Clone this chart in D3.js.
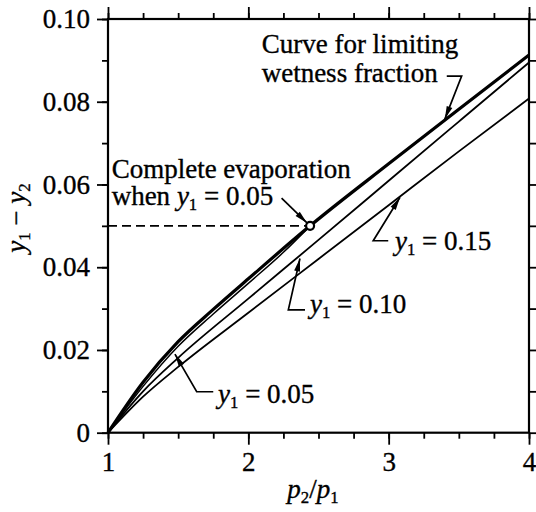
<!DOCTYPE html>
<html>
<head>
<meta charset="utf-8">
<script src="https://cdn.jsdelivr.net/npm/d3@7"></script>
<style>
  html, body { margin: 0; padding: 0; background: #fff; }
  svg { display: block; }
  text { font-family: "Liberation Serif", "Times New Roman", serif; fill: #000; stroke: #000; stroke-width: 0.35px; }
</style>
</head>
<body>
<svg id="chart" width="536" height="512"></svg>
<script>
// Pressure ratio p2/p1 (x) and moisture drop y1 - y2 (y)
const ratioMajorTicks = [1, 2, 3, 4];
const ratioMinorTicks = [1, 1.25, 1.5, 1.75, 2, 2.25, 2.5, 2.75, 3, 3.25, 3.5, 3.75, 4];
const diffMajorTicks = [0, 0.02, 0.04, 0.06, 0.08, 0.10];
const diffMinorTicks = [0, 0.01, 0.02, 0.03, 0.04, 0.05, 0.06, 0.07, 0.08, 0.09, 0.10];
const diffTickLabels = ["0", "0.02", "0.04", "0.06", "0.08", "0.10"];

// Curve for limiting wetness fraction
const limitingCurve = [[1, 0], [1.25, 0.0122], [1.5, 0.0220], [1.75, 0.0298], [2, 0.0372],
  [2.44, 0.0500], [3, 0.0650], [3.5, 0.0782], [4, 0.0913]];
// Inlet wetness y1 = 0.05 (ends at complete evaporation)
const wetness05 = [[1, 0], [1.25, 0.0112], [1.5, 0.0209], [1.75, 0.0287], [2, 0.0361], [2.25, 0.0436], [2.44, 0.0500]];
// Inlet wetness y1 = 0.10
const wetness10 = [[1, 0], [1.25, 0.0100], [1.5, 0.0181], [2, 0.0324], [2.5, 0.0466],
  [3, 0.0609], [3.5, 0.0752], [4, 0.0895]];
// Inlet wetness y1 = 0.15
const wetness15 = [[1, 0], [1.25, 0.0087], [1.5, 0.0159], [2, 0.0290], [2.5, 0.0420],
  [3, 0.0550], [3.5, 0.0680], [4, 0.0808]];
// Complete evaporation point for y1 = 0.05
const evaporationPoint = [2.44, 0.05];

const FONT = 27;
const svg = d3.select("#chart");
const x = d3.scaleLinear().domain([1, 4]).range([108, 529]);
const y = d3.scaleLinear().domain([0, 0.1]).range([432.7, 19]);

function styleAxis(g) {
  g.select(".domain").remove();
  g.attr("font-size", FONT).attr("font-family", null);
  g.selectAll(".tick line").attr("stroke", "#000").attr("stroke-width", 1.8);
  g.selectAll("text").attr("font-size", FONT).attr("fill", "#000");
}

// Bottom axis
svg.append("g").attr("transform", `translate(0,${y(0)})`)
  .call(d3.axisBottom(x).tickValues(ratioMinorTicks).tickSize(6).tickFormat(""))
  .call(styleAxis);
svg.append("g").attr("transform", `translate(0,${y(0)})`)
  .call(d3.axisBottom(x).tickValues(ratioMajorTicks).tickSize(12).tickPadding(7).tickFormat(d3.format("d")))
  .call(styleAxis);
// Top axis
svg.append("g").attr("transform", `translate(0,${y(0.1)})`)
  .call(d3.axisTop(x).tickValues(ratioMinorTicks).tickSize(6).tickFormat(""))
  .call(styleAxis);
svg.append("g").attr("transform", `translate(0,${y(0.1)})`)
  .call(d3.axisTop(x).tickValues(ratioMajorTicks).tickSize(12).tickFormat(""))
  .call(styleAxis);
// Left axis
svg.append("g").attr("transform", `translate(${x(1)},0)`)
  .call(d3.axisLeft(y).tickValues(diffMinorTicks).tickSize(6).tickFormat(""))
  .call(styleAxis);
svg.append("g").attr("transform", `translate(${x(1)},0)`)
  .call(d3.axisLeft(y).tickValues(diffMajorTicks).tickSize(11).tickPadding(7)
    .tickFormat((d, i) => diffTickLabels[i]))
  .call(styleAxis);
// Right axis
svg.append("g").attr("transform", `translate(${x(4)},0)`)
  .call(d3.axisRight(y).tickValues(diffMinorTicks).tickSize(7).tickFormat(""))
  .call(styleAxis);

// Frame
svg.append("rect")
  .attr("x", x(1)).attr("y", y(0.1))
  .attr("width", x(4) - x(1)).attr("height", y(0) - y(0.1))
  .attr("fill", "none").attr("stroke", "#000").attr("stroke-width", 2.2);

// Curves
const line = d3.line().x(d => x(d[0])).y(d => y(d[1])).curve(d3.curveMonotoneX);
const curves = svg.append("g").attr("fill", "none").attr("stroke", "#000").attr("stroke-linejoin", "round");
curves.append("path").attr("d", line(wetness15)).attr("stroke-width", 1.8);
curves.append("path").attr("d", line(wetness10)).attr("stroke-width", 1.8);
curves.append("path").attr("d", line(wetness05)).attr("stroke-width", 1.5);
curves.append("path").attr("d", line(limitingCurve)).attr("stroke-width", 3.2);

// Dashed guide at y1 - y2 = 0.05 up to the evaporation point
svg.append("line")
  .attr("x1", x(1)).attr("x2", x(evaporationPoint[0]) - 4)
  .attr("y1", y(evaporationPoint[1])).attr("y2", y(evaporationPoint[1]))
  .attr("stroke", "#000").attr("stroke-width", 1.6).attr("stroke-dasharray", "9,5");

svg.append("circle")
  .attr("cx", x(evaporationPoint[0])).attr("cy", y(evaporationPoint[1])).attr("r", 4)
  .attr("fill", "#fff").attr("stroke", "#000").attr("stroke-width", 2.2);

// Leader lines with filled arrowheads; the last point is the arrow tip
const leaders = svg.append("g");
function leader(points) {
  const px = points.map(p => [x(p[0]), y(p[1])]);
  leaders.append("polyline")
    .attr("points", px.map(p => p.join(",")).join(" "))
    .attr("fill", "none").attr("stroke", "#000").attr("stroke-width", 1.7);
  const [x0, y0] = px[px.length - 2];
  const [x1, y1] = px[px.length - 1];
  const a = Math.atan2(y1 - y0, x1 - x0);
  const L = 13, W = 3;
  const bx = x1 - L * Math.cos(a), by = y1 - L * Math.sin(a);
  leaders.append("polygon")
    .attr("points", [[x1, y1], [bx + W * Math.sin(a), by - W * Math.cos(a)],
      [bx - W * Math.sin(a), by + W * Math.cos(a)]].map(p => p.join(",")).join(" "))
    .attr("fill", "#000");
}

// Rich text with italic symbols and subscripts
function richText(parent, px, py, parts, opts = {}) {
  const t = parent.append("text").attr("x", px).attr("y", py).attr("font-size", FONT);
  if (opts.anchor) t.attr("text-anchor", opts.anchor);
  if (opts.rotate) t.attr("transform", `rotate(${opts.rotate},${px},${py})`);
  let shifted = false;
  parts.forEach(p => {
    const s = t.append("tspan").text(p.t);
    if (p.i) s.attr("font-style", "italic");
    if (p.sub) {
      s.attr("font-size", FONT * 0.62).attr("dy", shifted ? 0 : 5);
      shifted = true;
    } else if (shifted) {
      s.attr("dy", -5);
      shifted = false;
    }
  });
  return t;
}
const y1Label = v => [{ t: "y", i: true }, { t: "1", sub: true }, { t: " = " + v }];

const notes = svg.append("g");
// Limiting wetness annotation
notes.append("text").attr("x", x(2.095)).attr("y", y(0.0918)).attr("font-size", FONT).text("Curve for limiting");
notes.append("text").attr("x", x(2.095)).attr("y", y(0.0848)).attr("font-size", FONT).text("wetness fraction");
leader([[3.414, 0.0862], [3.520, 0.0862], [3.40, 0.0758]]);

// Complete evaporation annotation
notes.append("text").attr("x", x(1.026)).attr("y", y(0.0616)).attr("font-size", FONT).text("Complete evaporation");
richText(notes, x(1.026), y(0.0550), [{ t: "when " }].concat(y1Label("0.05")));
leader([[2.237, 0.0567], [2.418, 0.0507]]);

// Wetness labels
richText(notes, x(3.045), y(0.0442), y1Label("0.15"));
leader([[2.997, 0.0464], [2.890, 0.0464], [3.081, 0.0569]]);

richText(notes, x(2.439), y(0.0289), y1Label("0.10"));
leader([[2.404, 0.0297], [2.285, 0.0297], [2.368, 0.0421]]);

richText(notes, x(1.784), y(0.0072), y1Label("0.05"));
leader([[1.750, 0.0099], [1.632, 0.0099], [1.477, 0.0190]]);

// Axis titles
richText(svg, 313, 498, [{ t: "p", i: true }, { t: "2", sub: true }, { t: "/" }, { t: "p", i: true }, { t: "1", sub: true }], { anchor: "middle" });
richText(svg, 25, 218, [{ t: "y", i: true }, { t: "1", sub: true }, { t: " − " }, { t: "y", i: true }, { t: "2", sub: true }], { anchor: "middle", rotate: -90 });
</script>
</body>
</html>
